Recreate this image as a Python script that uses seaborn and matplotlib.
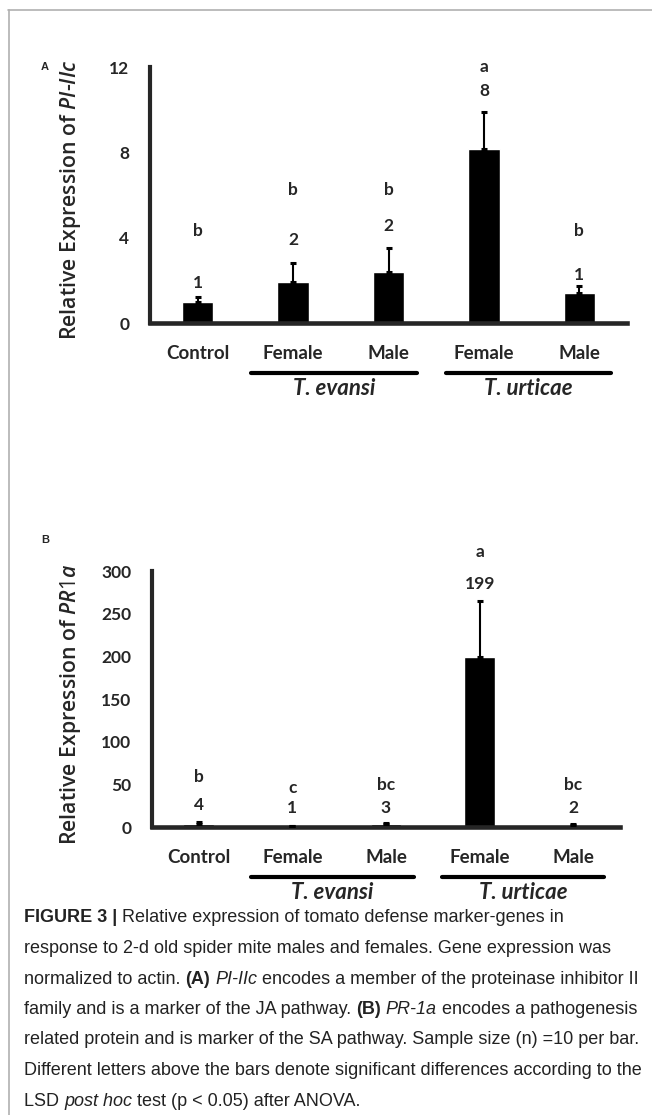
import matplotlib
matplotlib.use("Agg")
import matplotlib.pyplot as plt
import matplotlib.transforms as mtransforms
from matplotlib.lines import Line2D
import seaborn as sns
import numpy as np

# data
bar_keys = ["Control", "Te Female", "Te Male", "Tu Female", "Tu Male"]
bar_labels = ["Control", "Female", "Male", "Female", "Male"]
species = ["T. evansi", "T. urticae"]

pi_mean = [1.0, 1.92, 2.4, 8.15, 1.4]
pi_err = [0.2, 0.9, 1.1, 1.75, 0.33]
pi_letters = ["b", "b", "b", "a", "b"]

pr_mean = [4, 1, 3, 199, 2]
pr_err = [2, 0.5, 2, 66, 1]
pr_letters = ["b", "c", "bc", "a", "bc"]

# label heights (data units) above the bars
pi_num_y = [1.88, 3.9, 4.55, 10.88, 2.25]
pi_let_y = [4.31, 6.23, 6.23, 12.0, 4.31]
pr_num_y = [25.8, 22.3, 22.3, 284.8, 22.3]
pr_let_y = [58.6, 45.7, 49.2, 322.0, 49.2]

W, H = 652, 1115

sns.set_style("white")
plt.rcParams["font.family"] = ["Lato", "DejaVu Sans"]
plt.rcParams["mathtext.fontset"] = "custom"
plt.rcParams["mathtext.it"] = "Open Sans:italic:semibold"
plt.rcParams["mathtext.rm"] = "Open Sans"

fig = plt.figure(figsize=(W / 100, H / 100), dpi=100)
fig.patch.set_facecolor("white")


def rect(left, top, right, bottom):
    return [left / W, 1 - bottom / H, (right - left) / W, (bottom - top) / H]


def draw_panel(ax, means, errs, letters, num_y, let_y, yticks, ylim, ylabel, label_y_px, panel, panel_y_px):
    sns.barplot(x=bar_keys, y=means, color="black", saturation=1, width=0.33,
                errorbar=None, ax=ax)
    ax.errorbar(range(len(means)), means, yerr=[np.zeros(len(errs)), errs], fmt="none",
                ecolor="black", elinewidth=1.5, capsize=2.5, capthick=2.2, zorder=3)
    ax.set_xlim(-0.5, 4.5)
    ax.set_ylim(*ylim)
    ax.set_yticks(yticks)
    ax.set_yticklabels([str(t) for t in yticks], fontsize=12.5, fontweight="bold")
    ax.set_xticks(range(len(bar_labels)))
    ax.set_xticklabels(bar_labels, fontsize=13.5, fontweight="bold")
    ax.tick_params(axis="both", length=0)
    ax.tick_params(axis="x", pad=16)
    ax.tick_params(axis="y", pad=15)
    ax.set_xlabel("")
    ax.set_ylabel("")
    for s in ["top", "right"]:
        ax.spines[s].set_visible(False)
    ax.spines["left"].set_linewidth(3)
    ax.spines["bottom"].set_linewidth(3.3)
    for i in range(len(means)):
        ax.text(i, num_y[i], str(round(means[i])), ha="center", va="center",
                fontsize=12.5, fontweight="bold")
        ax.text(i, let_y[i], letters[i], ha="center", va="center",
                fontsize=12.5, fontweight="bold")
    # species group lines
    trans = mtransforms.blended_transform_factory(ax.transData, ax.transAxes)
    for (x0, x1), name in zip([(0.56, 2.3), (2.6, 4.33)], species):
        ax.add_line(Line2D([x0, x1], [-0.197, -0.197], color="black", lw=3,
                           transform=trans, clip_on=False))
        ax.text((x0 + x1) / 2, -0.255, name, transform=trans, ha="center", va="center",
                fontsize=16, fontweight="bold", fontstyle="italic")
    fig.text(71 / W, 1 - label_y_px / H, ylabel, rotation=90, ha="center", va="center",
             fontsize=15.3, family="Open Sans", fontweight="semibold")
    fig.text(45 / W, 1 - panel_y_px / H, panel, ha="center", va="center",
             fontsize=8, fontweight="bold", family="Liberation Sans")


axA = fig.add_axes(rect(150, 67, 627, 323))
draw_panel(axA, pi_mean, pi_err, pi_letters, pi_num_y, pi_let_y, [0, 4, 8, 12], (0, 12),
           r"Relative Expression of $\mathit{PI}$-$\mathit{IIc}$", 200, "A", 67)

axB = fig.add_axes(rect(152, 571, 620, 827))
draw_panel(axB, pr_mean, pr_err, pr_letters, pr_num_y, pr_let_y, [0, 50, 100, 150, 200, 250, 300],
           (0, 300), r"Relative Expression of $\mathit{PR1a}$", 704, "B", 540)

# page frame
fig.add_artist(Line2D([9 / W, 9 / W], [1 - 10 / H, 0], transform=fig.transFigure,
                      color="#b0b0b0", lw=1.2))
fig.add_artist(Line2D([8 / W, 1], [1 - 10 / H, 1 - 10 / H], transform=fig.transFigure,
                      color="#b0b0b0", lw=1.2))

# caption
caption = [
    [("FIGURE 3 |", "bold"), (" Relative expression of tomato defense marker-genes in", "normal")],
    [("response to 2-d old spider mite males and females. Gene expression was", "normal")],
    [("normalized to actin. ", "normal"), ("(A)", "bold"), (" ", "normal"), ("PI-IIc", "italic"),
     (" encodes a member of the proteinase inhibitor II", "normal")],
    [("family and is a marker of the JA pathway. ", "normal"), ("(B)", "bold"), (" ", "normal"),
     ("PR-1a", "italic"), (" encodes a pathogenesis", "normal")],
    [("related protein and is marker of the SA pathway. Sample size (n) =10 per bar.", "normal")],
    [("Different letters above the bars denote significant differences according to the", "normal")],
    [("LSD ", "normal"), ("post hoc", "italic"), (" test (p < 0.05) after ANOVA.", "normal")],
]

renderer = fig.canvas.get_renderer()
cap_size = 13.0


def text_width(s, style):
    kw = dict(fontsize=cap_size, family="Liberation Sans")
    if style == "bold":
        kw["fontweight"] = "bold"
    if style == "italic":
        kw["fontstyle"] = "italic"
    t1 = fig.text(0, 0, "|" + s + "|", **kw)
    t2 = fig.text(0, 0, "||", **kw)
    w = t1.get_window_extent(renderer).width - t2.get_window_extent(renderer).width
    t1.remove()
    t2.remove()
    return w


for k, line in enumerate(caption):
    y = 918 + k * 30.5
    x = 24
    for s, style in line:
        kw = dict(fontsize=cap_size, family="Liberation Sans", color="#222222")
        if style == "bold":
            kw["fontweight"] = "bold"
        if style == "italic":
            kw["fontstyle"] = "italic"
        fig.text(x / W, 1 - y / H, s, ha="left", va="center", **kw)
        x += text_width(s, style)

fig.savefig("out.png", dpi=100)
